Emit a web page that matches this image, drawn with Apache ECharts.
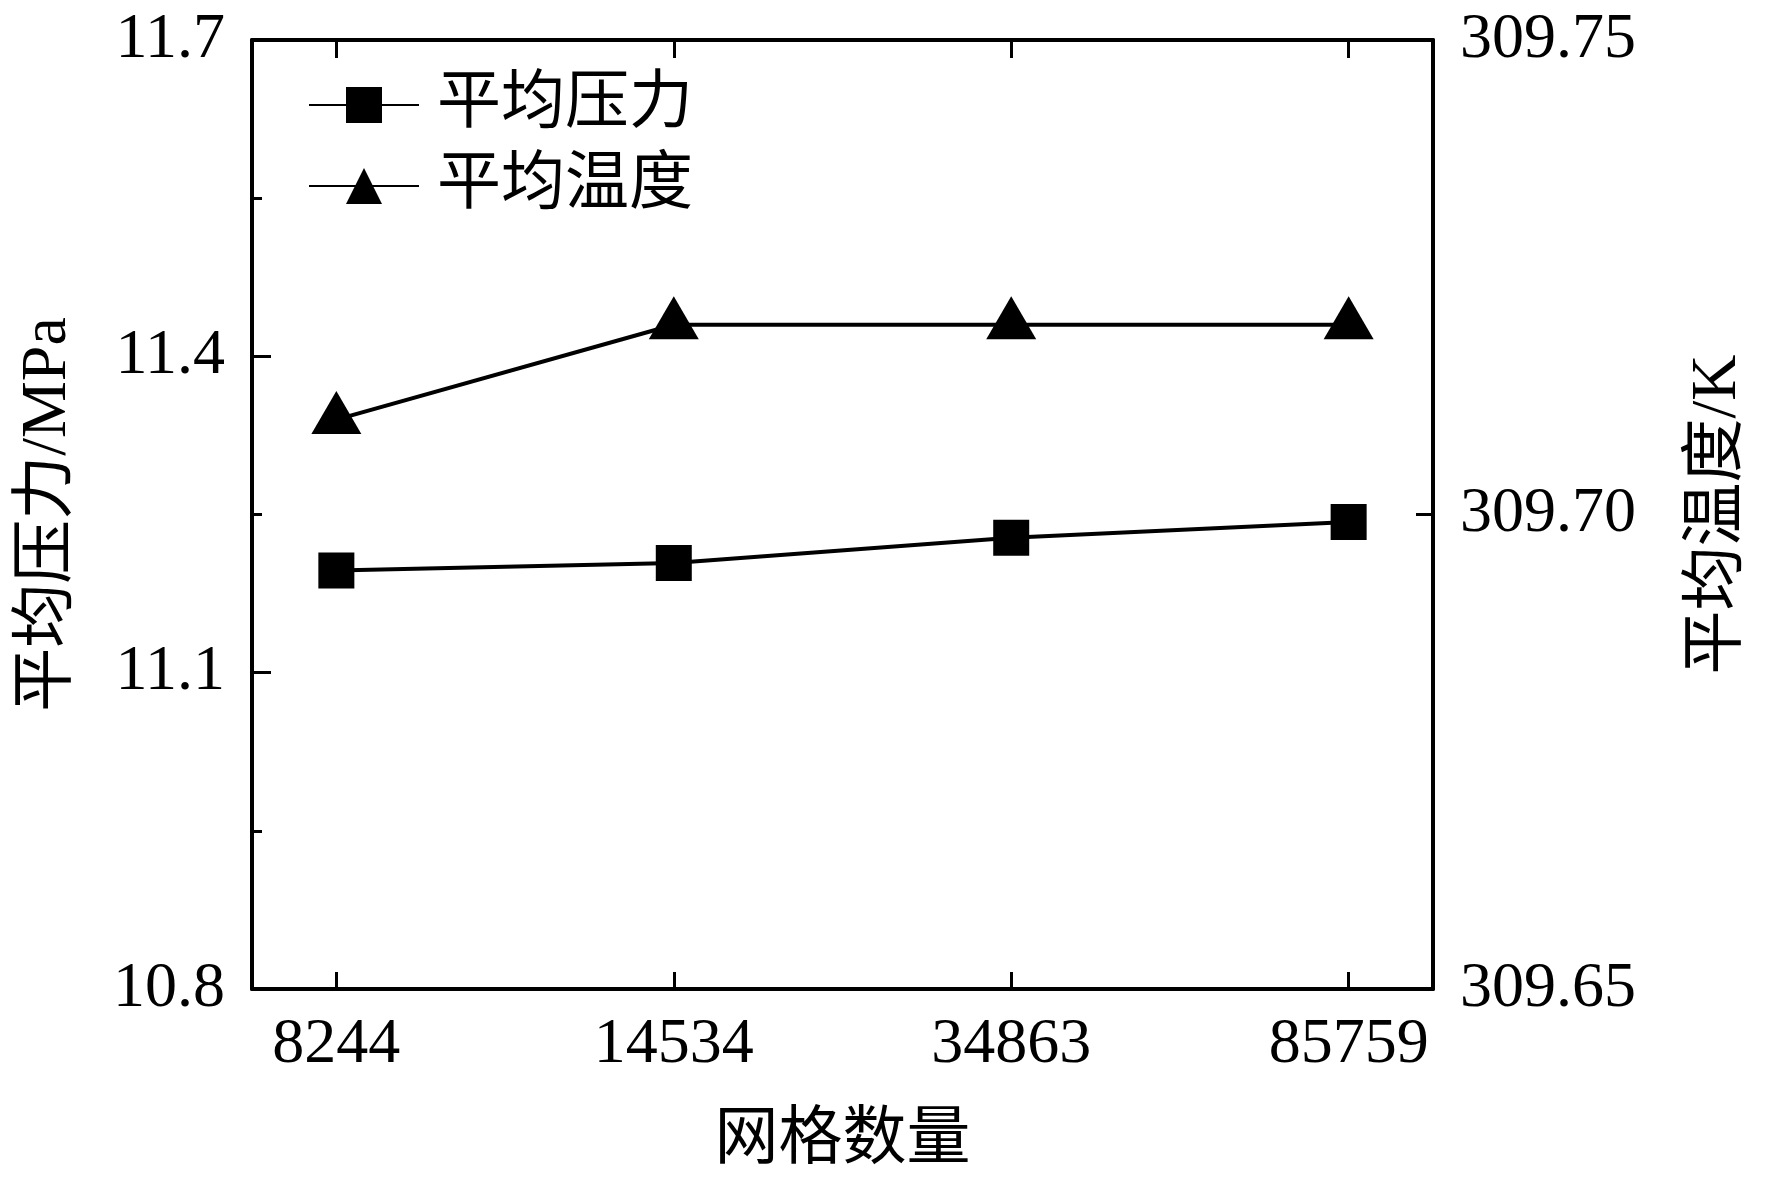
<!DOCTYPE html>
<html>
<head>
<meta charset="utf-8">
<script src="https://cdn.jsdelivr.net/npm/echarts@6/dist/echarts.min.js"></script>
<style>
html, body { margin: 0; padding: 0; background: #fff; }
#chart { width: 1772px; height: 1188px; }
</style>
</head>
<body>
<div id="chart"></div>
<script>
// mesh independence data
var meshCounts = ['8244', '14534', '34863', '85759'];
var avgPressure = [11.197, 11.204, 11.228, 11.243];   // MPa
var avgTemp = [309.710, 309.720, 309.720, 309.720];   // K
var pressureTicks = [10.8, 11.1, 11.4, 11.7];
var tempTicks = [309.65, 309.70, 309.75];
var catIdx = [0, 1, 2, 3];

var font = "'Liberation Serif', 'Noto Sans CJK SC', serif";

function pairs(arr) {
	var out = [];
	for (var i = 0; i < arr.length; i++) out.push([i, arr[i]]);
	return out;
}

var chart = echarts.init(document.getElementById('chart'));
var option = {
	animation: false,
	backgroundColor: '#fff',
	textStyle: { fontFamily: font, color: '#000' },
	grid: { left: 252, right: 339, top: 40, bottom: 199 },
	legend: {
		left: 303,
		top: 68,
		orient: 'vertical',
		itemWidth: 110,
		itemHeight: 45,
		itemGap: 17,
		textStyle: { fontFamily: font, fontSize: 64, color: '#000', padding: [0, 0, 0, 13] },
		data: ['平均压力', '平均温度']
	},
	xAxis: [
		{
			type: 'value',
			position: 'bottom',
			min: -0.25,
			max: 3.25,
			name: '网格数量',
			nameLocation: 'middle',
			nameGap: 120,
			nameTextStyle: { fontFamily: font, fontSize: 64, color: '#000' },
			axisLine: { show: true, onZero: false, lineStyle: { color: '#000', width: 4 } },
			axisTick: { show: true, inside: true, length: 17, customValues: catIdx, lineStyle: { color: '#000', width: 3 } },
			axisLabel: {
				show: true, margin: 24, fontSize: 64, color: '#000', fontFamily: font,
				customValues: catIdx,
				formatter: function (v) { return meshCounts[Math.round(v)]; }
			},
			splitLine: { show: false }
		},
		{
			type: 'value',
			position: 'top',
			min: -0.25,
			max: 3.25,
			axisLine: { show: true, onZero: false, lineStyle: { color: '#000', width: 4 } },
			axisTick: { show: true, inside: true, length: 18, customValues: catIdx, lineStyle: { color: '#000', width: 3 } },
			axisLabel: { show: false },
			splitLine: { show: false }
		}
	],
	yAxis: [
		{
			type: 'value',
			position: 'left',
			min: pressureTicks[0],
			max: pressureTicks[pressureTicks.length - 1],
			interval: 0.3,
			name: '平均压力/MPa',
			nameLocation: 'middle',
			nameRotate: 90,
			nameGap: 172,
			nameTextStyle: { fontFamily: font, fontSize: 64, color: '#000' },
			axisLine: { show: true, onZero: false, lineStyle: { color: '#000', width: 4 } },
			axisTick: { show: true, inside: true, length: 19, lineStyle: { color: '#000', width: 3 } },
			minorTick: { show: true, splitNumber: 2, length: 10, lineStyle: { color: '#000', width: 3 } },
			axisLabel: {
				margin: 27, fontSize: 64, color: '#000', fontFamily: font,
				formatter: function (v) { return v.toFixed(1); }
			},
			splitLine: { show: false }
		},
		{
			type: 'value',
			position: 'right',
			min: tempTicks[0],
			max: tempTicks[tempTicks.length - 1],
			interval: 0.05,
			name: '平均温度/K',
			nameLocation: 'middle',
			nameRotate: 90,
			nameGap: 253,
			nameTextStyle: { fontFamily: font, fontSize: 64, color: '#000' },
			axisLine: { show: true, onZero: false, lineStyle: { color: '#000', width: 4 } },
			axisTick: { show: true, inside: true, length: 17, lineStyle: { color: '#000', width: 3 } },
			axisLabel: {
				margin: 27, fontSize: 64, color: '#000', fontFamily: font,
				formatter: function (v) { return v.toFixed(2); }
			},
			splitLine: { show: false }
		}
	],
	series: [
		{
			name: '平均压力',
			type: 'line',
			xAxisIndex: 0,
			yAxisIndex: 0,
			data: pairs(avgPressure),
			symbol: 'rect',
			symbolSize: 36,
			lineStyle: { color: '#000', width: 4 },
			itemStyle: { color: '#000' }
		},
		{
			name: '平均温度',
			type: 'line',
			xAxisIndex: 0,
			yAxisIndex: 1,
			data: pairs(avgTemp),
			symbol: 'triangle',
			symbolSize: [50, 43],
			symbolOffset: [0, -7],
			lineStyle: { color: '#000', width: 4 },
			itemStyle: { color: '#000' }
		}
	]
};
chart.setOption(option);
</script>
</body>
</html>
